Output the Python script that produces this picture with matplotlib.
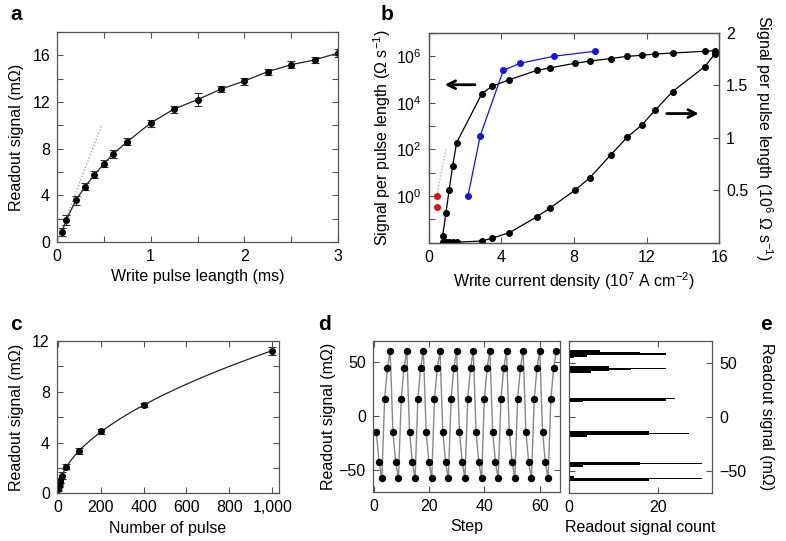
import numpy as np
import matplotlib
matplotlib.use("Agg")
import matplotlib.pyplot as plt

plt.rcParams['font.family'] = ['Liberation Sans', 'DejaVu Sans']
plt.rcParams['mathtext.default'] = 'regular'
plt.rcParams['font.size'] = 11.5
plt.rcParams['axes.linewidth'] = 0.9
plt.rcParams['axes.edgecolor'] = '#555555'

# ---- panel a: readout vs write pulse length
a_len = [0.05, 0.1, 0.2, 0.3, 0.4, 0.5, 0.6, 0.75, 1.0, 1.25, 1.5, 1.75, 2.0, 2.25, 2.5, 2.75, 3.0]
a_sig = [0.83, 1.9, 3.56, 4.75, 5.75, 6.7, 7.55, 8.6, 10.2, 11.4, 12.2, 13.1, 13.8, 14.6, 15.2, 15.6, 16.2]
a_err = [0.35, 0.4, 0.35, 0.3, 0.3, 0.3, 0.35, 0.3, 0.3, 0.3, 0.55, 0.25, 0.3, 0.25, 0.3, 0.25, 0.35]
a_guide_x = [0.0, 0.48]
a_guide_y = [0.0, 10.1]

# ---- panel b: signal per pulse length vs write current density
b_j = [0.77, 0.95, 1.13, 1.32, 1.54, 2.92, 3.47, 4.44, 5.94, 6.68, 8.05, 8.88,
       10.02, 10.93, 11.72, 12.47, 13.43, 15.21, 15.76]
b_log = [0.02, 0.19, 1.9, 20, 195, 2.4e4, 5.0e4, 9.7e4, 2.4e5, 3.1e5, 4.9e5, 6.1e5,
         7.8e5, 9.7e5, 1.07e6, 1.22e6, 1.35e6, 1.6e6, 1.7e6]
b_lin = [0.005, 0.005, 0.005, 0.005, 0.005, 0.016, 0.042, 0.095, 0.245, 0.33, 0.50, 0.62,
         0.836, 1.005, 1.119, 1.262, 1.44, 1.678, 1.80]
b_blue_j = [2.16, 2.84, 4.11, 5.04, 6.90, 9.15]
b_blue = [1.0, 390, 2.45e5, 4.9e5, 9.8e5, 1.6e6]
b_red_j = [0.44, 0.44]
b_red = [1.0, 0.33]
b_red_guide_j = [0.44, 0.94]
b_red_guide = [1.0, 100]

# ---- panel c: readout vs number of pulses
c_n = [1, 2, 3, 4, 5, 6, 7, 8, 9, 10, 20, 40, 100, 200, 400, 1000]
c_sig = [0.3, 0.43, 0.53, 0.62, 0.69, 0.76, 0.83, 0.89, 0.95, 1.0, 1.4, 2.1, 3.35, 4.88, 6.95, 11.2]
c_err = [0.15, 0.15, 0.15, 0.15, 0.15, 0.15, 0.15, 0.15, 0.15, 0.2, 0.25, 0.2, 0.25, 0.2, 0.15, 0.3]

# ---- panel d: readout signal per step (one cycle repeated in the measurement)
d_cycle = [-14.5, -42.5, -57.5, 16.0, 44.5, 60.5]
d_steps = list(range(1, 67))
d_sig = [d_cycle[(s - 1) % 6] for s in d_steps]

# ---- panel e: histogram of readout signal (bin centre, count)
e_bin = [61, 60, 59, 58, 57, 56, 55,
         46, 45, 44, 43, 42, 41,
         17, 16, 15, 14,
         -14, -15, -16, -17, -18,
         -42, -43, -44, -45, -46,
         -55, -56, -57, -58, -59]
e_count = [7, 7, 16, 22, 4, 4, 1,
           9, 22, 14, 9, 5, 5,
           24, 22, 22, 3,
           18, 27, 18, 4, 4,
           16, 30, 16, 3, 3,
           1, 1, 30, 18, 18]

W, H = 786, 541
fig = plt.figure(figsize=(W / 100, H / 100), dpi=100)


def add_ax(l, r, t, b):
    return fig.add_axes([l / W, 1 - b / H, (r - l) / W, (b - t) / H])


def style(ax, right=True, top=True):
    ax.tick_params(direction='in', length=4, width=0.8, color='#555555',
                   top=top, right=right, pad=5)


# panel a
ax = add_ax(57, 338, 32, 242)
ax.plot(a_guide_x, a_guide_y, ':', color='#999999', lw=0.9)
ax.plot(a_len, a_sig, '-', color='#222222', lw=0.9)
ax.errorbar(a_len, a_sig, yerr=a_err, fmt='o', color='black', ms=4,
            ecolor='#333333', elinewidth=0.8, capsize=3, capthick=0.8)
ax.set_xlim(0, 3)
ax.set_ylim(0, 18)
ax.set_xticks(np.arange(0, 3.01, 0.5))
ax.set_xticklabels(['0', '', '1', '', '2', '', '3'])
ax.set_yticks(np.arange(0, 18.1, 2))
ax.set_yticklabels(['0', '', '4', '', '8', '', '12', '', '16', ''])
ax.set_xlabel('Write pulse leangth (ms)', labelpad=4)
ax.set_ylabel('Readout signal (mΩ)', labelpad=6)
style(ax)

# panel b
ax = add_ax(428.7, 719.3, 32.7, 242.7)
ax.set_yscale('log')
ax.plot(b_red_guide_j, b_red_guide, ':', color='#ee8888', lw=0.9)
ax.plot(b_red_j, b_red, 'o', color='#dd1111', ms=4)
ax.plot(b_j, b_log, 'o-', color='black', ms=4, lw=0.9)
ax.plot(b_blue_j, b_blue, 'o-', color='#1515e0', ms=4, lw=0.9)
ax.set_xlim(0, 16)
ax.set_ylim(1e-2, 1e7)
ax.set_xticks([0, 4, 8, 12, 16])
ax.set_yticks([10.0 ** k for k in range(-2, 8)])
ax.set_yticklabels(['', '', '$10^0$', '', '$10^2$', '', '$10^4$', '', '$10^6$', ''])
ax.yaxis.set_minor_locator(matplotlib.ticker.NullLocator())
ax.set_xlabel('Write current density (10$^7$ A cm$^{-2}$)', labelpad=4)
ax.set_ylabel('Signal per pulse length (Ω s$^{-1}$)', labelpad=2)
style(ax, right=False)
ax.annotate('', xy=(0.73, 10 ** 4.77), xytext=(2.7, 10 ** 4.77),
            arrowprops=dict(arrowstyle='->', lw=2, color='black', mutation_scale=14))
ax2 = ax.twinx()
ax2.plot(b_j, b_lin, 'o-', color='black', ms=4, lw=0.9)
ax2.set_ylim(0, 2)
ax2.set_yticks([0.5, 1, 1.5, 2])
ax2.set_yticklabels(['0.5', '1', '1.5', '2'])
ax2.set_ylabel('Signal per pulse length (10$^6$ Ω s$^{-1}$)', rotation=270, labelpad=19)
ax2.tick_params(direction='in', length=4, width=0.8, color='#555555', pad=5)
ax2.annotate('', xy=(15.02, 1.23), xytext=(12.95, 1.23),
             arrowprops=dict(arrowstyle='->', lw=2, color='black', mutation_scale=14))

# panel c
ax = add_ax(56.7, 278.7, 341, 493.3)
p = np.polyfit(np.log(c_n), np.log(c_sig), 1)
fit_n = np.linspace(1, 1000, 400)
ax.plot(fit_n, np.exp(np.polyval(p, np.log(fit_n))), '-', color='#222222', lw=0.9)
ax.errorbar(c_n, c_sig, yerr=c_err, fmt='o', color='black', ms=4,
            ecolor='#333333', elinewidth=0.8, capsize=3, capthick=0.8)
ax.set_xlim(-5, 1030)
ax.set_ylim(0, 12)
ax.set_xticks([0, 200, 400, 600, 800, 1000])
ax.set_xticklabels(['0', '200', '400', '600', '800', '1,000'])
ax.set_yticks(np.arange(0, 12.1, 2))
ax.set_yticklabels(['0', '', '4', '', '8', '', '12'])
ax.set_xlabel('Number of pulse', labelpad=4)
ax.set_ylabel('Readout signal (mΩ)', labelpad=6)
style(ax)

# panel d
ax = add_ax(372.7, 560, 340.5, 492)
ax.plot(d_steps, d_sig, '-', color='#888888', lw=1)
ax.plot(d_steps, d_sig, 'o', color='black', ms=4.3)
ax.set_xlim(-0.3, 67.3)
ax.set_ylim(-70, 70)
ax.set_xticks([0, 20, 40, 60])
ax.set_yticks([-50, 0, 50])
ax.set_yticklabels(['\u221250', '0', '50'])
ax.set_xlabel('Step', labelpad=4)
ax.set_ylabel('Readout signal (mΩ)', labelpad=2)
style(ax)

# panel e
ax = add_ax(569.3, 712, 341, 492.7)
ax.barh(e_bin, e_count, height=1.0, color='black', linewidth=0)
ax.set_xlim(0, 32.3)
ax.set_ylim(-70, 70)
ax.set_xticks([0, 20])
ax.set_yticks([-50, 0, 50])
ax.set_yticklabels(['\u221250', '0', '50'])
ax.yaxis.tick_right()
ax.yaxis.set_label_position('right')
ax.set_xlabel('Readout signal count', labelpad=4)
ax.set_ylabel('Readout signal (mΩ)', rotation=270, labelpad=20)
ax.tick_params(direction='in', length=4, width=0.8, color='#555555',
               top=True, left=True, right=True, pad=5)

# panel letters
for x, y, s in [(10, 15, 'a'), (381, 15, 'b'), (10, 324, 'c'), (318, 324, 'd'), (760, 324, 'e')]:
    fig.text(x / W, 1 - y / H, s, fontsize=15, fontweight='bold', ha='left', va='center')

fig.savefig('out.png', dpi=100)
